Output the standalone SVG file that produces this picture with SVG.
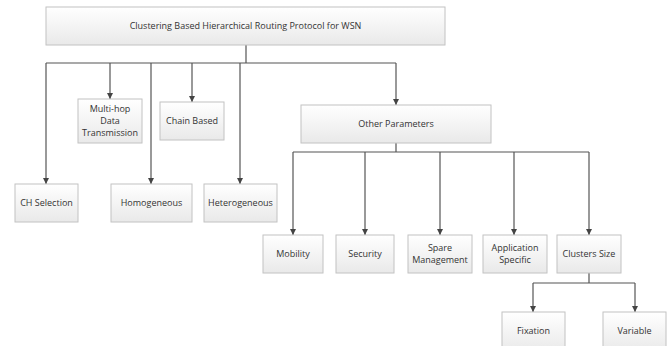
<svg xmlns="http://www.w3.org/2000/svg" width="670" height="346" viewBox="0 0 670 346">
<defs>
<linearGradient id="g" x1="0" y1="0" x2="0" y2="1">
<stop offset="0" stop-color="#ffffff"/>
<stop offset="1" stop-color="#e9e9e9"/>
</linearGradient>
<marker id="a" viewBox="0 0 6 6" refX="6" refY="3" markerWidth="6" markerHeight="6" markerUnits="userSpaceOnUse" orient="auto">
<path d="M0,0 L6,3 L0,6 Z" fill="#444"/>
</marker>
</defs>
<style>
.b{fill:url(#g);stroke:#c2c2c2;stroke-width:1}
.t{font-family:"Open Sans","Liberation Sans",sans-serif;font-size:9px;fill:#333;text-anchor:middle}
.c{fill:none;stroke:#555;stroke-width:1.2}
.ar{marker-end:url(#a)}
</style>
<rect width="670" height="346" fill="#fff"/>
<g id="connectors" class="c">
<path d="M246,45 V63 M46,63 H396"/>
<path class="ar" d="M46,63 V184"/>
<path class="ar" d="M110,63 V99"/>
<path class="ar" d="M151,63 V184"/>
<path class="ar" d="M192,63 V102"/>
<path class="ar" d="M240,63 V184"/>
<path class="ar" d="M396,63 V105"/>
<path d="M396,143 V152 M293,152 H589"/>
<path class="ar" d="M293,152 V235"/>
<path class="ar" d="M365,152 V235"/>
<path class="ar" d="M440,152 V235"/>
<path class="ar" d="M514,152 V235"/>
<path class="ar" d="M589,152 V235"/>
<path d="M589,273 V283 M533,283 H635"/>
<path class="ar" d="M533,283 V312"/>
<path class="ar" d="M635,283 V312"/>
</g>
<g id="root"><rect class="b" x="46" y="7" width="399" height="38"/><text class="t" x="245.5" y="29">Clustering Based Hierarchical Routing Protocol for WSN</text></g>
<g id="multihop"><rect class="b" x="78" y="99" width="64" height="44"/><text class="t" x="110" y="112">Multi-hop</text><text class="t" x="110" y="124">Data</text><text class="t" x="110" y="136">Transmission</text></g>
<g id="chain"><rect class="b" x="160" y="102" width="64" height="38"/><text class="t" x="192" y="124">Chain Based</text></g>
<g id="other"><rect class="b" x="301" y="105" width="190" height="38"/><text class="t" x="396" y="127">Other Parameters</text></g>
<g id="chsel"><rect class="b" x="15" y="184" width="63" height="38"/><text class="t" x="46.5" y="206">CH Selection</text></g>
<g id="homo"><rect class="b" x="111" y="184" width="81" height="38"/><text class="t" x="151.5" y="206">Homogeneous</text></g>
<g id="hetero"><rect class="b" x="204" y="184" width="73" height="38"/><text class="t" x="240.5" y="206">Heterogeneous</text></g>
<g id="mobility"><rect class="b" x="263" y="235" width="60" height="38"/><text class="t" x="293" y="257">Mobility</text></g>
<g id="security"><rect class="b" x="336" y="235" width="58" height="38"/><text class="t" x="365" y="257">Security</text></g>
<g id="spare"><rect class="b" x="408" y="235" width="64" height="38"/><text class="t" x="440" y="251">Spare</text><text class="t" x="440" y="263">Management</text></g>
<g id="appspec"><rect class="b" x="483" y="235" width="64" height="38"/><text class="t" x="515" y="251">Application</text><text class="t" x="515" y="263">Specific</text></g>
<g id="clusters"><rect class="b" x="557" y="235" width="64" height="38"/><text class="t" x="589" y="257">Clusters Size</text></g>
<g id="fixation"><rect class="b" x="502" y="312" width="63" height="40"/><text class="t" x="533.5" y="334">Fixation</text></g>
<g id="variable"><rect class="b" x="603" y="312" width="63" height="40"/><text class="t" x="634.5" y="334">Variable</text></g>
</svg>
